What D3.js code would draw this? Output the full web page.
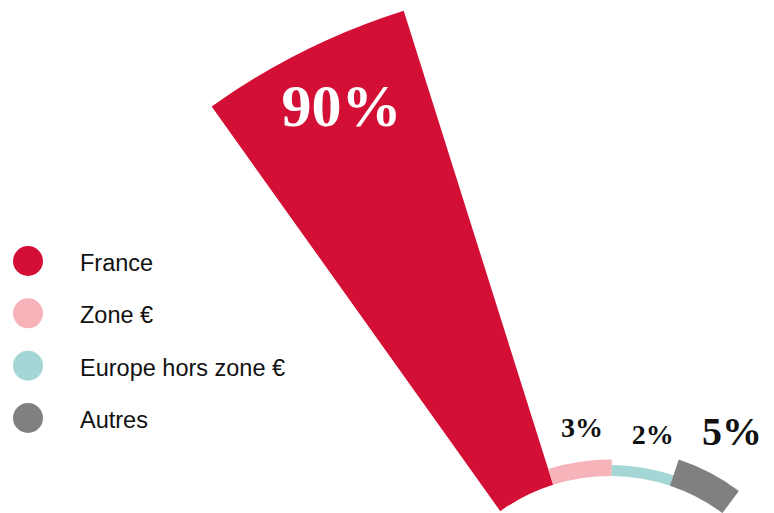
<!DOCTYPE html>
<html>
<head>
<meta charset="utf-8">
<script src="https://cdn.jsdelivr.net/npm/d3@7"></script>
<style>
  html, body { margin: 0; padding: 0; background: #ffffff; }
  svg { display: block; }
</style>
</head>
<body>
<div id="chart"></div>
<script>
// Répartition géographique
const categories = ["France", "Zone €", "Europe hors zone €", "Autres"];
const values = [90, 3, 2, 5];
const valueLabels = ["90%", "3%", "2%", "5%"];
const colors = ["#d40f35", "#f6b3ba", "#a3d6d4", "#808080"];

const width = 774, height = 513;
const cx = 610, cy = 665;
const deg = Math.PI / 180;

const svg = d3.select("#chart").append("svg")
  .attr("width", width).attr("height", height);

// each category gets the same angular slice; the value drives the radial length
const angle = d3.scaleBand().domain(categories)
  .range([-35.5 * deg, 36.5 * deg]).padding(0);
const radius = d3.scaleLinear().domain([0, 90]).range([189, 686]);
const color = d3.scaleOrdinal().domain(categories).range(colors);

const rows = categories.map((c, i) => ({ cat: c, value: values[i], label: valueLabels[i] }));

const arc = d3.arc()
  .innerRadius(radius(0))
  .outerRadius(d => radius(d.value))
  .startAngle(d => angle(d.cat))
  .endAngle(d => angle(d.cat) + angle.bandwidth());

const g = svg.append("g").attr("transform", `translate(${cx},${cy})`);

g.selectAll("path.seg").data(rows).join("path")
  .attr("class", "seg")
  .attr("d", arc)
  .attr("fill", d => color(d.cat));

// value labels: inside the large wedge, just outside the small ones
const labelSize = d => d.value >= 50 ? 60 : (d.value >= 5 ? 40 : 28);
const polar = (a, r) => [r * Math.sin(a), -r * Math.cos(a)];
g.selectAll("text.val").data(rows).join("text")
  .attr("class", "val")
  .each(function (d) {
    const mid = angle(d.cat) + angle.bandwidth() / 2;
    const fs = labelSize(d);
    const inside = d.value >= 50;
    const r = inside ? radius(d.value) - 84 : radius(d.value) + fs * 0.88;
    const [x, y] = polar(mid + (inside ? 0 : 1.5 * deg), r);
    d3.select(this).attr("x", x).attr("y", y).attr("font-size", fs);
  })
  .attr("text-anchor", "middle")
  .attr("font-family", "'Liberation Serif', 'DejaVu Serif', serif")
  .attr("font-weight", "bold")
  .attr("fill", d => d.value >= 50 ? "#ffffff" : "#111111")
  .text(d => d.label);

// legend
const legendY = d3.scalePoint().domain(categories).range([261, 418]);
const legend = svg.append("g");
const item = legend.selectAll("g").data(categories).join("g")
  .attr("transform", d => `translate(0,${legendY(d)})`);
item.append("circle")
  .attr("cx", 28).attr("cy", 0).attr("r", 15)
  .attr("fill", d => color(d));
item.append("text")
  .attr("x", 80).attr("y", 10)
  .attr("font-family", "'Liberation Sans', Arial, sans-serif")
  .attr("font-size", 23.5)
  .attr("fill", "#111111")
  .text(d => d);
</script>
</body>
</html>
